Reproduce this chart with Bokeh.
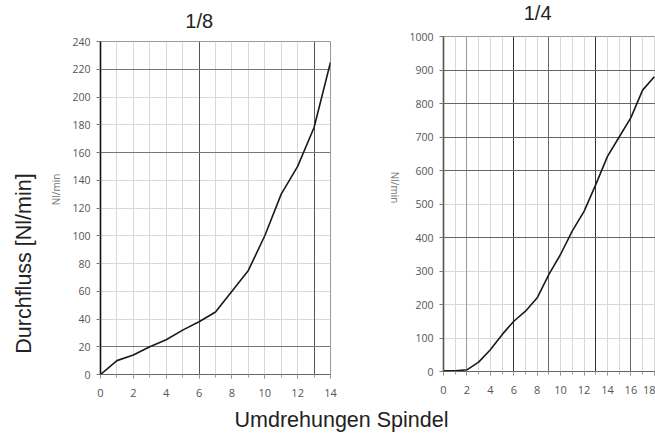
import math
from bokeh.plotting import figure
from bokeh.layouts import row, column
from bokeh.models import Range1d, FixedTicker, Grid
from bokeh.core.properties import value
from bokeh.embed import file_html
from bokeh.resources import INLINE

# ---- data ----
turns_18 = [0, 1, 2, 3, 4, 5, 6, 7, 8, 9, 10, 11, 12, 13, 14]
flow_18 = [0, 10, 14, 20, 25, 32, 38, 45, 60, 75, 100, 130, 150, 178, 225]

turns_14 = [0, 1, 2, 3, 4, 5, 6, 7, 8, 9, 10, 11, 12, 13, 14, 15, 16, 17, 18]
flow_14 = [2, 2, 5, 28, 65, 110, 150, 180, 220, 290, 350, 420, 478, 558, 642, 700, 758, 840, 880]

x_ticks_18 = [0, 2, 4, 6, 8, 10, 12, 14]
y_ticks_18 = [0, 20, 40, 60, 80, 100, 120, 140, 160, 180, 200, 220, 240]
x_ticks_14 = [0, 2, 4, 6, 8, 10, 12, 14, 16, 18]
y_ticks_14 = [0, 100, 200, 300, 400, 500, 600, 700, 800, 900, 1000]

title_18 = "1/8"
title_14 = "1/4"
unit_label = "Nl/min"
y_title = "Durchfluss [Nl/min]"
x_title = "Umdrehungen Spindel"

TICK_FONT = "Open Sans"
BIG_FONT = "Liberation Sans"


def style_axes(p, xt, yt, xminor, axis_col):
    p.xaxis.ticker = FixedTicker(ticks=xt, minor_ticks=xminor)
    p.yaxis.ticker = FixedTicker(ticks=yt, minor_ticks=[])
    for ax in (p.xaxis[0], p.yaxis[0]):
        ax.major_tick_in = 0
        ax.major_tick_out = 4
        ax.minor_tick_in = 0
        ax.minor_tick_out = 3
        ax.major_label_text_font = TICK_FONT
        ax.major_label_text_color = "#555555"
        ax.major_tick_line_color = "#777777"
        ax.minor_tick_line_color = "#999999"
    p.xaxis.major_label_text_font_size = "11px"
    p.yaxis.major_label_text_font_size = "10.5px"
    p.yaxis.major_label_standoff = 6
    p.yaxis.axis_line_color = axis_col
    p.yaxis.axis_line_width = 1.6
    p.xaxis.axis_line_color = "#666666"
    p.xaxis.axis_line_width = 1.2


def add_grid(p, dim, ticks, color, width=1.0):
    g = Grid(dimension=dim, ticker=FixedTicker(ticks=ticks),
             grid_line_color=color, grid_line_width=width)
    p.add_layout(g)


def text_panel(w, h):
    """A blank figure whose frame is the whole canvas; data units = pixels from top-left."""
    f = figure(width=w, height=h, output_backend="svg", toolbar_location=None,
               x_range=Range1d(0, w), y_range=Range1d(h, 0),
               x_axis_location=None, y_axis_location=None, min_border=0)
    f.grid.visible = False
    f.outline_line_color = None
    return f


def put(f, x, y, txt, size, color, font, angle=0.0):
    f.text(x=[x], y=[y], text=[txt], angle=angle, text_align="center",
           text_baseline="middle", text_font=value(font),
           text_font_size=value(size), text_color=color)


FULL_H = 405
FOOT_H = 30
HEAD1_H = 34
HEAD2_H = 26

# ---- left side texts ----
side_l = text_panel(68, FULL_H)
put(side_l, 23, 263, y_title, "21.5px", "#222222", BIG_FONT, angle=math.pi / 2)
put(side_l, 55, 189, unit_label, "10px", "#777777", TICK_FONT, angle=math.pi / 2)

# ---- left chart 1/8 ----
head1 = text_panel(282, HEAD1_H)
put(head1, 121, 20, title_18, "20px", "#222222", BIG_FONT)

p1 = figure(width=282, height=FULL_H - HEAD1_H, output_backend="svg", toolbar_location=None,
            x_range=Range1d(0, 14), y_range=Range1d(0, 240),
            min_border_left=32, min_border_right=20,
            min_border_top=7, min_border_bottom=31)
p1.outline_line_color = "#999999"
p1.xgrid.ticker = FixedTicker(ticks=list(range(1, 14)))
p1.xgrid.grid_line_color = "#d8d8d8"
p1.ygrid.ticker = FixedTicker(ticks=y_ticks_18[1:-1])
p1.ygrid.grid_line_color = "#d8d8d8"
add_grid(p1, 0, [6, 13], "#555555")
add_grid(p1, 1, [20, 160, 220], "#777777")
style_axes(p1, x_ticks_18, y_ticks_18, list(range(0, 15)), "#111111")
p1.xaxis.major_label_standoff = 10
p1.line(turns_18, flow_18, line_color="#1a1a1a", line_width=1.6)

# ---- middle texts ----
side_m = text_panel(55, FULL_H)
put(side_m, 44, 187, unit_label, "10px", "#777777", TICK_FONT, angle=-math.pi / 2)

# ---- right chart 1/4 ----
head2 = text_panel(250, HEAD2_H)
put(head2, 111, 12, title_14, "20px", "#222222", BIG_FONT)

p2 = figure(width=250, height=FULL_H - HEAD2_H, output_backend="svg", toolbar_location=None,
            x_range=Range1d(0, 18.1), y_range=Range1d(0, 1000),
            min_border_left=38, min_border_right=0,
            min_border_top=10, min_border_bottom=34)
p2.outline_line_color = "#999999"
p2.xgrid.ticker = FixedTicker(ticks=list(range(1, 19)))
p2.xgrid.grid_line_color = "#d8d8d8"
p2.ygrid.ticker = FixedTicker(ticks=y_ticks_14[1:-1])
p2.ygrid.grid_line_color = "#d8d8d8"
add_grid(p2, 0, [2], "#999999")
add_grid(p2, 0, [9, 16], "#666666")
add_grid(p2, 0, [6, 13], "#333333")
add_grid(p2, 1, [400, 600, 700, 800, 900], "#666666")
style_axes(p2, x_ticks_14, y_ticks_14, list(range(0, 19)), "#555555")
p2.xaxis.major_label_standoff = 10
p2.line(turns_14, flow_14, line_color="#1a1a1a", line_width=1.6)

# ---- footer with shared x title ----
foot = text_panel(655, FOOT_H)
put(foot, 341, 14, x_title, "21.5px", "#222222", BIG_FONT)

top = row(side_l, column(head1, p1, spacing=0), side_m, column(head2, p2, spacing=0), spacing=0)
layout = column(top, foot, spacing=0)
open("out.html", "w").write(file_html(layout, INLINE))
